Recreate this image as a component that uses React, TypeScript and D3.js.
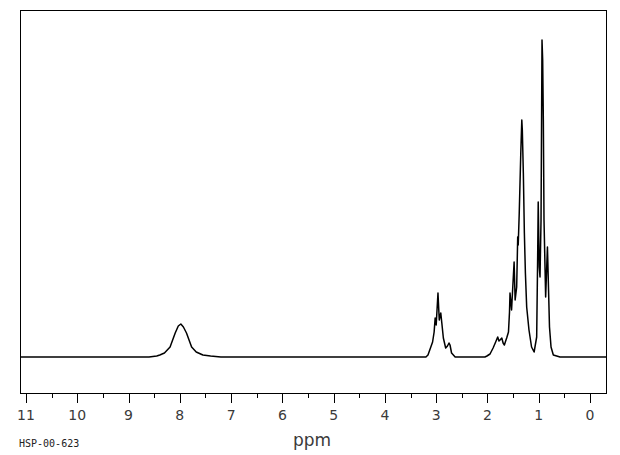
import { useMemo } from "react";
import * as d3 from "d3";

const WIDTH = 620;
const HEIGHT = 455;
const FRAME = { left: 20, right: 606, top: 10, bottom: 393 };
const BASELINE_Y = 357;
const TOP_Y = 40;

// chemical shift (ppm) / intensity
const ppm = [
  11.2, 8.6, 8.45, 8.39, 8.3, 8.19, 8.09, 8.03, 7.98, 7.93, 7.87, 7.82, 7.77, 7.68, 7.55, 7.4, 7.2,
  3.2, 3.16, 3.07, 3.04, 3.02, 3.0, 2.965, 2.94, 2.91, 2.89, 2.86, 2.815, 2.78, 2.75, 2.73, 2.7, 2.63,
  2.05, 2.01, 1.95, 1.89, 1.84, 1.8, 1.775, 1.755, 1.72, 1.695, 1.67, 1.645, 1.625, 1.59, 1.57,
  1.56, 1.53, 1.48, 1.46, 1.43, 1.41, 1.4, 1.38, 1.35, 1.33, 1.32, 1.3, 1.28, 1.26, 1.235, 1.19,
  1.14, 1.09, 1.04, 1.02, 1.01, 0.99, 0.975, 0.955, 0.936, 0.923, 0.91, 0.897, 0.865, 0.83, 0.81,
  0.79, 0.76, 0.715, 0.585, -0.4,
];
const intensity = [
  0, 0, 1, 2, 4, 10, 24, 31, 33, 30, 24, 17, 10, 5, 2, 1, 0,
  0, 2, 15, 25, 39, 32, 64, 37, 44, 34, 19, 9, 11, 14, 12, 4, 0,
  0, 1, 3, 9, 15, 20, 16, 17, 19, 14, 12, 16, 19, 25, 45,
  64, 47, 95, 57, 70, 120, 112, 144, 204, 237, 227, 184, 124, 84, 50, 27,
  10, 5, 20, 104, 155, 90, 80, 137, 317, 297, 237, 137, 60, 110, 70,
  30, 10, 2, 0, 0,
];

const majorTicks = [11, 10, 9, 8, 7, 6, 5, 4, 3, 2, 1, 0];
const minorTicks = [10.5, 9.5, 8.5, 7.5, 6.5, 5.5, 4.5, 3.5, 2.5, 1.5, 0.5];
const axisTitle = "ppm";
const sampleId = "HSP-00-623";

export default function App() {
  const xScale = useMemo(
    () => d3.scaleLinear().domain([11, 0]).range([26, 590]),
    []
  );
  const yScale = useMemo(
    () => d3.scaleLinear().domain([0, 317]).range([BASELINE_Y, TOP_Y]),
    []
  );

  const points: [number, number][] = ppm.map((p, i) => [p, intensity[i]]);
  const path = d3
    .line<[number, number]>()
    .x((d) => xScale(d[0]))
    .y((d) => yScale(d[1]))(points);

  return (
    <svg
      width={WIDTH}
      height={HEIGHT}
      style={{ position: "absolute", left: 0, top: 0, background: "#fff" }}
    >
      <defs>
        <clipPath id="plot">
          <rect
            x={FRAME.left}
            y={FRAME.top}
            width={FRAME.right - FRAME.left}
            height={FRAME.bottom - FRAME.top}
          />
        </clipPath>
      </defs>
      <rect
        x={FRAME.left + 0.5}
        y={FRAME.top + 0.5}
        width={FRAME.right - FRAME.left}
        height={FRAME.bottom - FRAME.top}
        fill="none"
        stroke="#000"
        strokeWidth={1}
      />
      <path
        d={path || ""}
        fill="none"
        stroke="#000"
        strokeWidth={1.5}
        strokeLinejoin="round"
        clipPath="url(#plot)"
      />
      {majorTicks.map((t) => (
        <g key={t}>
          <line
            x1={Math.round(xScale(t)) + 0.5}
            x2={Math.round(xScale(t)) + 0.5}
            y1={FRAME.bottom}
            y2={FRAME.bottom + 10}
            stroke="#000"
          />
          <text
            x={xScale(t)}
            y={420}
            textAnchor="middle"
            fontFamily="DejaVu Sans"
            fontSize={14}
            fill="#3a3a3a"
          >
            {t}
          </text>
        </g>
      ))}
      {minorTicks.map((t) => (
        <line
          key={t}
          x1={Math.round(xScale(t)) + 0.5}
          x2={Math.round(xScale(t)) + 0.5}
          y1={FRAME.bottom}
          y2={FRAME.bottom + 5}
          stroke="#000"
        />
      ))}
      <text
        x={312}
        y={446}
        textAnchor="middle"
        fontFamily="DejaVu Sans"
        fontSize={17}
        fill="#3a3a3a"
      >
        {axisTitle}
      </text>
      <text x={19} y={447} fontFamily="DejaVu Sans Mono" fontSize={10} fill="#222">
        {sampleId}
      </text>
    </svg>
  );
}
